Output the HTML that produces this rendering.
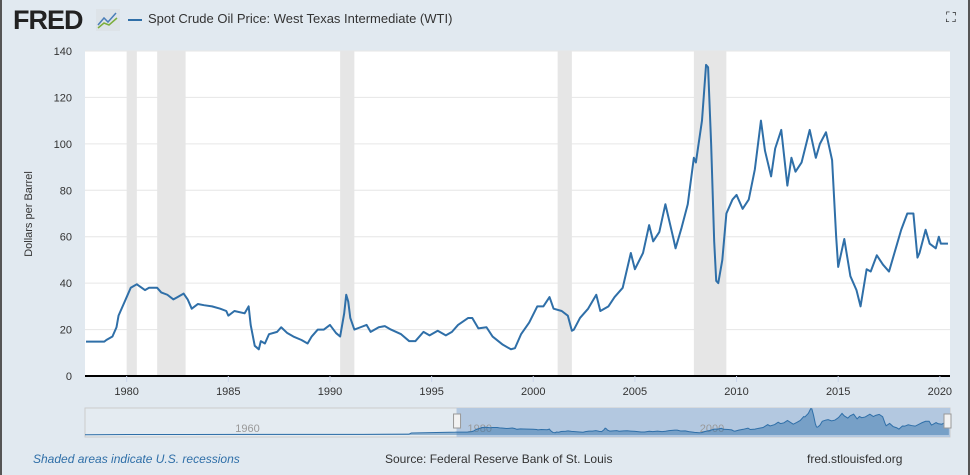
<!DOCTYPE html>
<html><head><meta charset="utf-8"><style>
body{margin:0;width:970px;height:475px;overflow:hidden;background:#e1e9f0;font-family:"Liberation Sans",sans-serif;}
#wrap{position:relative;width:966px;height:475px;border-left:2px solid #555;border-right:2px solid #555;}
.t{position:absolute;white-space:nowrap;}
</style></head><body>
<div id="wrap">
<div class="t" style="left:11px;top:5px;font-weight:bold;font-size:27px;color:#222;letter-spacing:-1px;">FRED</div>
<svg style="position:absolute;left:94px;top:9px" width="24" height="22"><rect width="24" height="22" fill="#dde3e8"/><polyline points="2,16 8,9 12,13 20,4" fill="none" stroke="#4a7eb8" stroke-width="1.5"/><polyline points="2,19 8,14 13,16 21,9" fill="none" stroke="#7cae3c" stroke-width="1.5"/></svg>
<div style="position:absolute;left:126px;top:19px;width:14px;height:2px;background:#2f6fa8"></div>
<div class="t" style="left:146px;top:11px;font-size:13px;color:#333;">Spot Crude Oil Price: West Texas Intermediate (WTI)</div>
<div class="t" style="left:944px;top:9px;font-size:14px;color:#222;">⛶</div>
<svg id="c" width="970" height="475" style="position:absolute;left:-2px;top:0"></svg>
<div class="t" style="left:31px;top:452px;font-size:12px;font-style:italic;color:#2f6fa8;">Shaded areas indicate U.S. recessions</div>
<div class="t" style="left:383px;top:452px;font-size:12px;color:#333;">Source: Federal Reserve Bank of St. Louis</div>
<div class="t" style="left:805px;top:452px;font-size:12px;color:#333;">fred.stlouisfed.org</div>
</div>
<script>
const years=[1978.0,1978.9,1979.0,1979.3,1979.5,1979.6,1979.9,1980.2,1980.5,1980.9,1981.1,1981.5,1981.7,1982.0,1982.3,1982.5,1982.8,1983.0,1983.2,1983.5,1983.8,1984.2,1984.6,1984.9,1985.0,1985.3,1985.8,1986.0,1986.1,1986.3,1986.5,1986.6,1986.8,1987.0,1987.4,1987.6,1987.9,1988.2,1988.6,1988.9,1989.1,1989.4,1989.7,1990.0,1990.3,1990.5,1990.7,1990.8,1990.9,1991.0,1991.2,1991.5,1991.8,1992.0,1992.4,1992.7,1993.0,1993.5,1993.9,1994.2,1994.6,1994.9,1995.3,1995.7,1996.0,1996.3,1996.8,1997.0,1997.3,1997.7,1998.0,1998.5,1998.9,1999.1,1999.4,1999.8,2000.2,2000.5,2000.8,2001.0,2001.4,2001.7,2001.9,2002.0,2002.3,2002.7,2003.1,2003.3,2003.7,2004.0,2004.4,2004.8,2005.0,2005.4,2005.7,2005.9,2006.2,2006.5,2006.9,2007.0,2007.3,2007.6,2007.9,2008.0,2008.3,2008.5,2008.6,2008.75,2008.9,2009.0,2009.1,2009.3,2009.5,2009.8,2010.0,2010.3,2010.6,2010.9,2011.2,2011.4,2011.7,2011.9,2012.2,2012.5,2012.7,2012.9,2013.2,2013.6,2013.9,2014.1,2014.4,2014.7,2014.9,2015.0,2015.3,2015.6,2015.9,2016.1,2016.4,2016.6,2016.9,2017.2,2017.5,2017.9,2018.1,2018.4,2018.7,2018.9,2019.0,2019.3,2019.5,2019.8,2019.95,2020.05,2020.4];
const prices=[14.8,14.8,15.5,17,21,26,32,38,39.5,37,38,38,36,35,33,34,35.5,33,29,31,30.5,30,29,28,26,28,27,30,22,13,11.5,15,14,18,19,21,18.5,17,15.5,14,17,20,20,22,18.5,17,27,35,32,25,20,21,22,19,21,21.5,20,18,15,15,19,17.5,19.5,17.5,19,22,25,25,20.5,21,17,13.5,11.5,12,18,23,30,30,34,29,28,26,19.5,20,25,29,35,28,30,34,38,53,46,53,65,58,62,74,59,55,64,74,94,92,110,134,133,100,58,41,40,50,70,76,78,72,76,89,110,97,86,98,106,82,94,88,92,106,94,100,105,93,60,47,59,43,37,30,46,45,52,48,45,57,63,70,70,51,53,63,57,55,60,57,57];
const navYears=[1946,1950,1955,1960,1965,1970,1973.9,1974.1,1977.9];
const navPrices=[1.2,2.5,2.6,3,3,3.3,4.3,10,14.5];
const recessions=[[1980.0,1980.5],[1981.5,1982.9],[1990.5,1991.2],[2001.2,2001.9],[2007.9,2009.5]];
const yTicks=[0,20,40,60,80,100,120,140];
const xTicks=[1980,1985,1990,1995,2000,2005,2010,2015,2020];
const navTicks=[1960,1980,2000];
const X0=85,X1=950,Y0=376,Y1=51,T0=1977.95,T1=2020.5;
const x=t=>X0+(t-T0)/(T1-T0)*(X1-X0);
const y=v=>Y0-v/140*(Y0-Y1);
const NT0=1946,NY0=435,NY1=410;
const nx=t=>X0+(t-NT0)/(T1-NT0)*(X1-X0);
const ny=v=>NY0-v/140*(NY0-NY1)*1.1;
const svg=document.getElementById('c');const NS='http://www.w3.org/2000/svg';
function mk(tag,attrs,name){const e=document.createElementNS(NS,tag);for(const k in attrs)e.setAttribute(k,attrs[k]);


svg.appendChild(e);return e;}
mk('rect',{x:X0,y:Y1,width:X1-X0,height:Y0-Y1,fill:'#fff'},'plot-area');
recessions.forEach(r=>mk('rect',{x:x(r[0]),y:Y1,width:x(r[1])-x(r[0]),height:Y0-Y1,fill:'#e6e6e6'},'recession-band'));
yTicks.forEach(v=>{if(v>0)mk('line',{x1:X0,x2:X1,y1:y(v),y2:y(v),stroke:'#e6e6e6'},'gridline');
const t=mk('text',{x:72,y:y(v)+4,'text-anchor':'end','font-size':11,fill:'#333'},'y-tick-label');t.textContent=v;});
mk('line',{x1:X0,x2:X1,y1:Y0,y2:Y0,stroke:'#000','stroke-width':2},'x-axis-line');
xTicks.forEach(v=>{mk('line',{x1:x(v),x2:x(v),y1:Y0,y2:Y0+6,stroke:'#ccd6eb'},'x-tick');
const t=mk('text',{x:x(v),y:Y0+19,'text-anchor':'middle','font-size':11,fill:'#333'},'x-tick-label');t.textContent=v;});
const yt=mk('text',{x:32,y:214,'text-anchor':'middle','font-size':11,fill:'#333',transform:'rotate(-90 32 214)'},'y-axis-title');yt.textContent='Dollars per Barrel';
mk('polyline',{points:years.map((t,i)=>x(t)+','+y(prices[i])).join(' '),fill:'none',stroke:'#2f6fa8','stroke-width':2,'stroke-linejoin':'round'},'wti-series-line');
// navigator
mk('rect',{x:X0,y:NY1-2,width:X1-X0,height:NY0-NY1+4,fill:'#e4ebf1',stroke:'#ccc'},'navigator');
const sx=nx(1978.0);
mk('rect',{x:sx,y:NY1-2,width:X1-sx,height:NY0-NY1+4,fill:'#b3c8e0'},'navigator-selection');
navTicks.forEach(v=>{const t=mk('text',{x:nx(v),y:NY0-3,'text-anchor':'middle','font-size':11,fill:'#999'},'navigator-label');t.textContent=v;});
const allY=navYears.concat(years),allP=navPrices.concat(prices);
const pts=allY.map((t,i)=>nx(t)+','+ny(allP[i])).join(' ');
mk('polygon',{points:nx(NT0)+','+NY0+' '+pts+' '+nx(2020.4)+','+NY0,fill:'rgba(47,111,168,0.45)'},'navigator-area');
mk('polyline',{points:pts,fill:'none',stroke:'#2f6fa8','stroke-width':1},'navigator-line');
[sx,X1-3].forEach(h=>{const e=mk('rect',{x:h-3,y:414,width:7,height:14,fill:'#f2f2f2',stroke:'#999'},'navigator-handle');});
</script>
</body></html>
